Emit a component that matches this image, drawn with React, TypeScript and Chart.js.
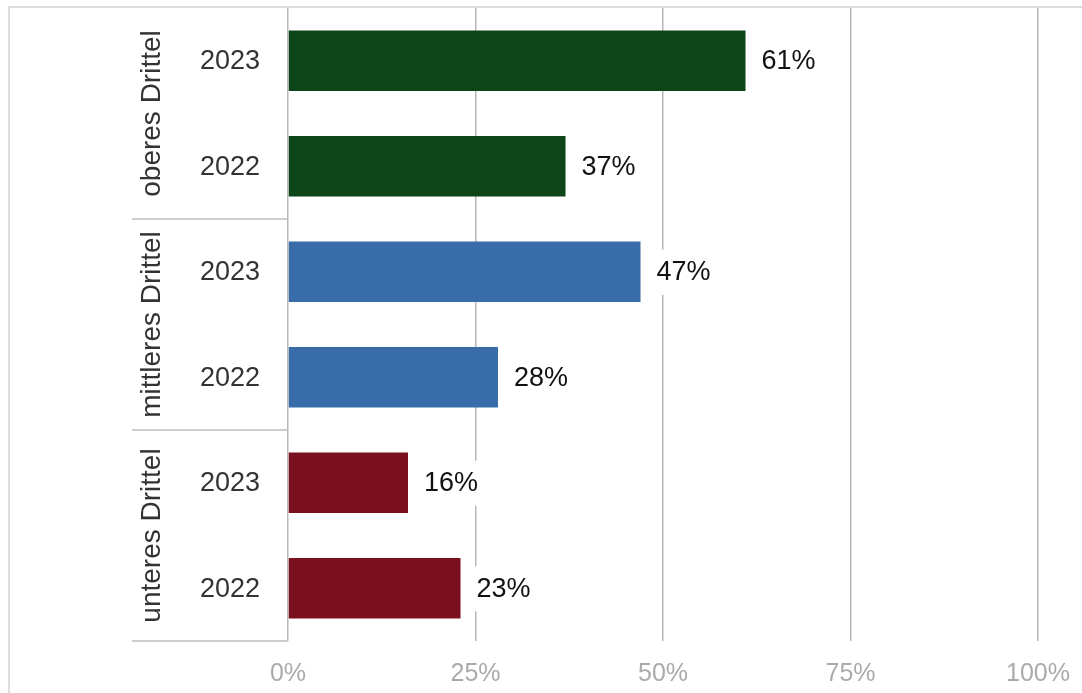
import React, { useEffect, useRef } from "react";
import { Chart, registerables } from "chart.js";

Chart.register(...registerables);

const groups = ["oberes Drittel", "mittleres Drittel", "unteres Drittel"];
const years = ["2023", "2022", "2023", "2022", "2023", "2022"];
const values = [61, 37, 47, 28, 16, 23];
const groupColors = ["#0e4518", "#396daa", "#7a101e"];
const xTicks = [0, 25, 50, 75, 100];

const FONT = "'Liberation Sans', Arial, sans-serif";
const W = 1072;
const H = 685;

const labelPlugin = {
  id: "customLabels",
  afterDatasetsDraw(chart: any) {
    const { ctx } = chart;
    const meta = chart.getDatasetMeta(0);
    ctx.save();
    ctx.font = `27px ${FONT}`;
    ctx.textBaseline = "middle";
    ctx.textAlign = "left";
    meta.data.forEach((bar: any, i: number) => {
      const txt = `${values[i]}%`;
      const w = ctx.measureText(txt).width;
      ctx.fillStyle = "#ffffff";
      ctx.fillRect(bar.x + 8, bar.y - 22, w + 16, 45);
      ctx.fillStyle = "#111111";
      ctx.fillText(txt, bar.x + 16, bar.y + 1);
    });
    ctx.restore();
  },
  afterDraw(chart: any) {
    const { ctx, chartArea } = chart;
    const yScale = chart.scales.y;
    ctx.save();
    ctx.font = `27px ${FONT}`;
    ctx.fillStyle = "#333333";
    ctx.textAlign = "center";
    ctx.textBaseline = "middle";
    years.forEach((yr, i) => {
      ctx.fillText(yr, 220, yScale.getPixelForValue(i) + 1);
    });
    ctx.font = `28px ${FONT}`;
    groups.forEach((g, gi) => {
      const yc = (yScale.getPixelForValue(gi * 2) + yScale.getPixelForValue(gi * 2 + 1)) / 2;
      ctx.save();
      ctx.translate(142, yc);
      ctx.rotate(-Math.PI / 2);
      ctx.fillText(g, 0, 0);
      ctx.restore();
    });
    ctx.strokeStyle = "#bdbdbd";
    ctx.lineWidth = 1.5;
    const seps: number[] = [];
    for (let gi = 1; gi < groups.length; gi++) {
      seps.push((yScale.getPixelForValue(gi * 2 - 1) + yScale.getPixelForValue(gi * 2)) / 2);
    }
    seps.push(chartArea.bottom);
    seps.forEach((y) => {
      ctx.beginPath();
      ctx.moveTo(122, y);
      ctx.lineTo(chartArea.left, y);
      ctx.stroke();
    });
    ctx.restore();
  },
};

export default function App() {
  const ref = useRef<HTMLCanvasElement | null>(null);
  useEffect(() => {
    if (!ref.current) return;
    const colors = values.map((_, i) => groupColors[Math.floor(i / 2)]);
    const chart = new Chart(ref.current, {
      type: "bar",
      data: {
        labels: years,
        datasets: [
          {
            data: values,
            backgroundColor: colors,
            borderWidth: 0,
            barPercentage: 0.575,
            categoryPercentage: 1,
          },
        ],
      },
      options: {
        indexAxis: "y",
        animation: false,
        responsive: false,
        maintainAspectRatio: false,
        layout: { padding: { left: 278, right: 44, top: 0, bottom: 2 } },
        plugins: { legend: { display: false }, tooltip: { enabled: false } },
        scales: {
          y: { display: false },
          x: {
            min: 0,
            max: 100,
            afterBuildTicks: (s: any) => {
              s.ticks = xTicks.map((v) => ({ value: v }));
            },
            afterFit: (s: any) => {
              s.height = 50;
              s.paddingLeft = 0;
              s.paddingRight = 0;
            },
            grid: { color: "#b8b8b8", lineWidth: 1.5, drawTicks: false },
            border: { display: false },
            ticks: {
              padding: 18,
              color: "#aaaaaa",
              font: { family: FONT, size: 25 },
              callback: (v: any) => `${v}%`,
            },
          },
        },
      },
      plugins: [labelPlugin],
    });
    return () => chart.destroy();
  }, []);
  return (
    <div
      style={{
        position: "fixed",
        left: 8,
        top: 6,
        borderTop: "2px solid #dddddd",
        borderLeft: "2px solid #dddddd",
        width: W,
        height: H,
        background: "#fff",
      }}
    >
      <canvas ref={ref} width={W} height={H} style={{ display: "block", width: W, height: H }} />
    </div>
  );
}
